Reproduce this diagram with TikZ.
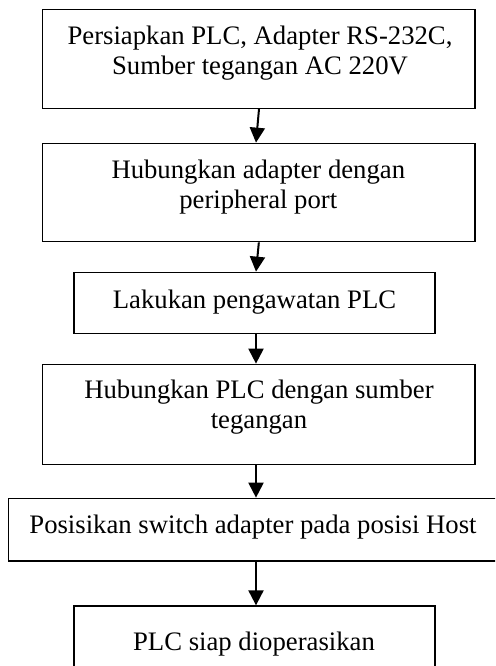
\documentclass[tikz,border=0pt]{standalone}
\usepackage{fontspec}
\setmainfont{Liberation Serif}
\usetikzlibrary{arrows.meta}
\begin{document}
\begin{tikzpicture}[x=1pt,y=-1pt,
  box/.style={draw, line width=1.3pt, rectangle, inner sep=0pt},
  txt/.style={font=\fontsize{26.7}{30}\selectfont, inner sep=0pt, anchor=base},
  arr/.style={line width=2pt, -{Triangle[width=15pt,length=15pt]}}]
\useasboundingbox (0,0) rectangle (495,666);
\clip (0,0) rectangle (495,666);
\node[box, minimum width=432.3pt, minimum height=98.8pt] (b1) at (258.85,58.9) {};
\node[box, minimum width=432.3pt, minimum height=98.4pt] (b2) at (258.85,192.5) {};
\node[box, minimum width=361pt, minimum height=61pt] (b3) at (254.5,302.8) {};
\node[box, minimum width=432.3pt, minimum height=100pt] (b4) at (258.85,414.3) {};
\node[box, minimum width=511.7pt, minimum height=62.7pt] (b5) at (264.15,529.65) {};
\node[box, minimum width=361pt, minimum height=66pt] (b6) at (254.5,639) {};

\node[txt] (t1) at (260,45) {\begin{tabular}[t]{@{}c@{}}Persiapkan PLC, Adapter RS-232C,\\Sumber tegangan AC 220V\end{tabular}};
\node[txt] (t2) at (258.3,178.3) {\begin{tabular}[t]{@{}c@{}}Hubungkan adapter dengan\\peripheral port\end{tabular}};
\node[txt] (t3) at (254.5,308.3) {Lakukan pengawatan PLC};
\node[txt] (t4) at (259,398.3) {\begin{tabular}[t]{@{}c@{}}Hubungkan PLC dengan sumber\\tegangan\end{tabular}};
\node[txt] (t5) at (253,533.3) {Posisikan switch adapter pada posisi Host};
\node[txt] (t6) at (254,650) {PLC siap dioperasikan};

\draw[arr] ([xshift=0.15pt]b1.south) -- ([xshift=-2.85pt]b2.north);
\draw[arr] (b2.south) -- ([xshift=1.5pt]b3.north);
\draw[arr] ([xshift=1.5pt]b3.south) -- ([xshift=-2.85pt]b4.north);
\draw[arr] ([xshift=-2.85pt]b4.south) -- ([xshift=-8.15pt]b5.north);
\draw[arr] ([xshift=-8.15pt]b5.south) -- ([xshift=1.5pt]b6.north);
\end{tikzpicture}
\end{document}
